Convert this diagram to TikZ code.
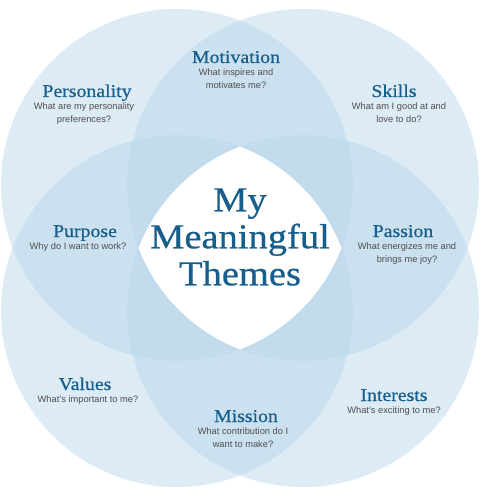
\documentclass[tikz,border=0pt]{standalone}
\usepackage{fontspec}
\setmainfont{Liberation Sans}
\newfontfamily\headfont[FakeStretch=1.1,FakeBold=0.6]{Liberation Serif}
\usepackage{xcolor}
\usepackage{tikz}
\usetikzlibrary{positioning}

\definecolor{ringblue}{RGB}{187,215,235}
\definecolor{themeblue}{RGB}{22,94,140}
\definecolor{askgray}{RGB}{78,78,78}

\begin{document}
\begin{tikzpicture}[
    x=1pt, y=-1pt,
    ring/.style={fill=ringblue, fill opacity=0.5},
    theme/.style={font=\headfont\fontsize{18}{20}\selectfont, text=themeblue, inner sep=0pt, anchor=base, text depth=4pt},
    ask/.style={font=\fontsize{9.3}{12.6}\selectfont, text=askgray, align=center, inner sep=0pt},
    title/.style={font=\headfont\fontsize{35}{37}\selectfont, text=themeblue, align=center, inner sep=0pt},
    node distance=1.6pt
]
    \useasboundingbox (0,0) rectangle (480,497);

    % the four circles
    \coordinate (tl) at (177,185);
    \coordinate (tr) at (303,185);
    \coordinate (bl) at (177,311);
    \coordinate (br) at (303,311);
    \foreach \c in {tl,tr,bl,br}
        \fill[ring] (\c) circle (176pt);

    % white heart where all four meet
    \begin{scope}
        \clip (tl) circle (176pt);
        \clip (tr) circle (176pt);
        \clip (bl) circle (176pt);
        \fill[white] (br) circle (176pt);
    \end{scope}

    \node[title] (heart) at (240,237) {My\\Meaningful\\Themes};

    % themes
    \node[theme] (motivation) at (236,63) {Motivation};
    \node[ask, below=of motivation] (motivationq) {What inspires and\\motivates me?};

    \node[theme] (personality) at (87,97) {Personality};
    \node[ask, below=of personality, xshift=-3pt] (personalityq) {What are my personality\\preferences?};

    \node[theme] (skills) at (394,97) {Skills};
    \node[ask, below=of skills, xshift=5pt] (skillsq) {What am I good at and\\love to do?};

    \node[theme] (purpose) at (85,237) {Purpose};
    \node[ask, below=of purpose, xshift=-7pt] (purposeq) {Why do I want to work?};

    \node[theme] (passion) at (403,237) {Passion};
    \node[ask, below=of passion, xshift=4pt] (passionq) {What energizes me and\\brings me joy?};

    \node[theme] (values) at (85,390) {Values};
    \node[ask, below=of values, xshift=3pt] (valuesq) {What's important to me?};

    \node[theme] (interests) at (394,401) {Interests};
    \node[ask, below=of interests] (interestsq) {What's exciting to me?};

    \node[theme] (mission) at (246,422) {Mission};
    \node[ask, below=of mission, xshift=-3pt] (missionq) {What contribution do I\\want to make?};
\end{tikzpicture}
\end{document}
